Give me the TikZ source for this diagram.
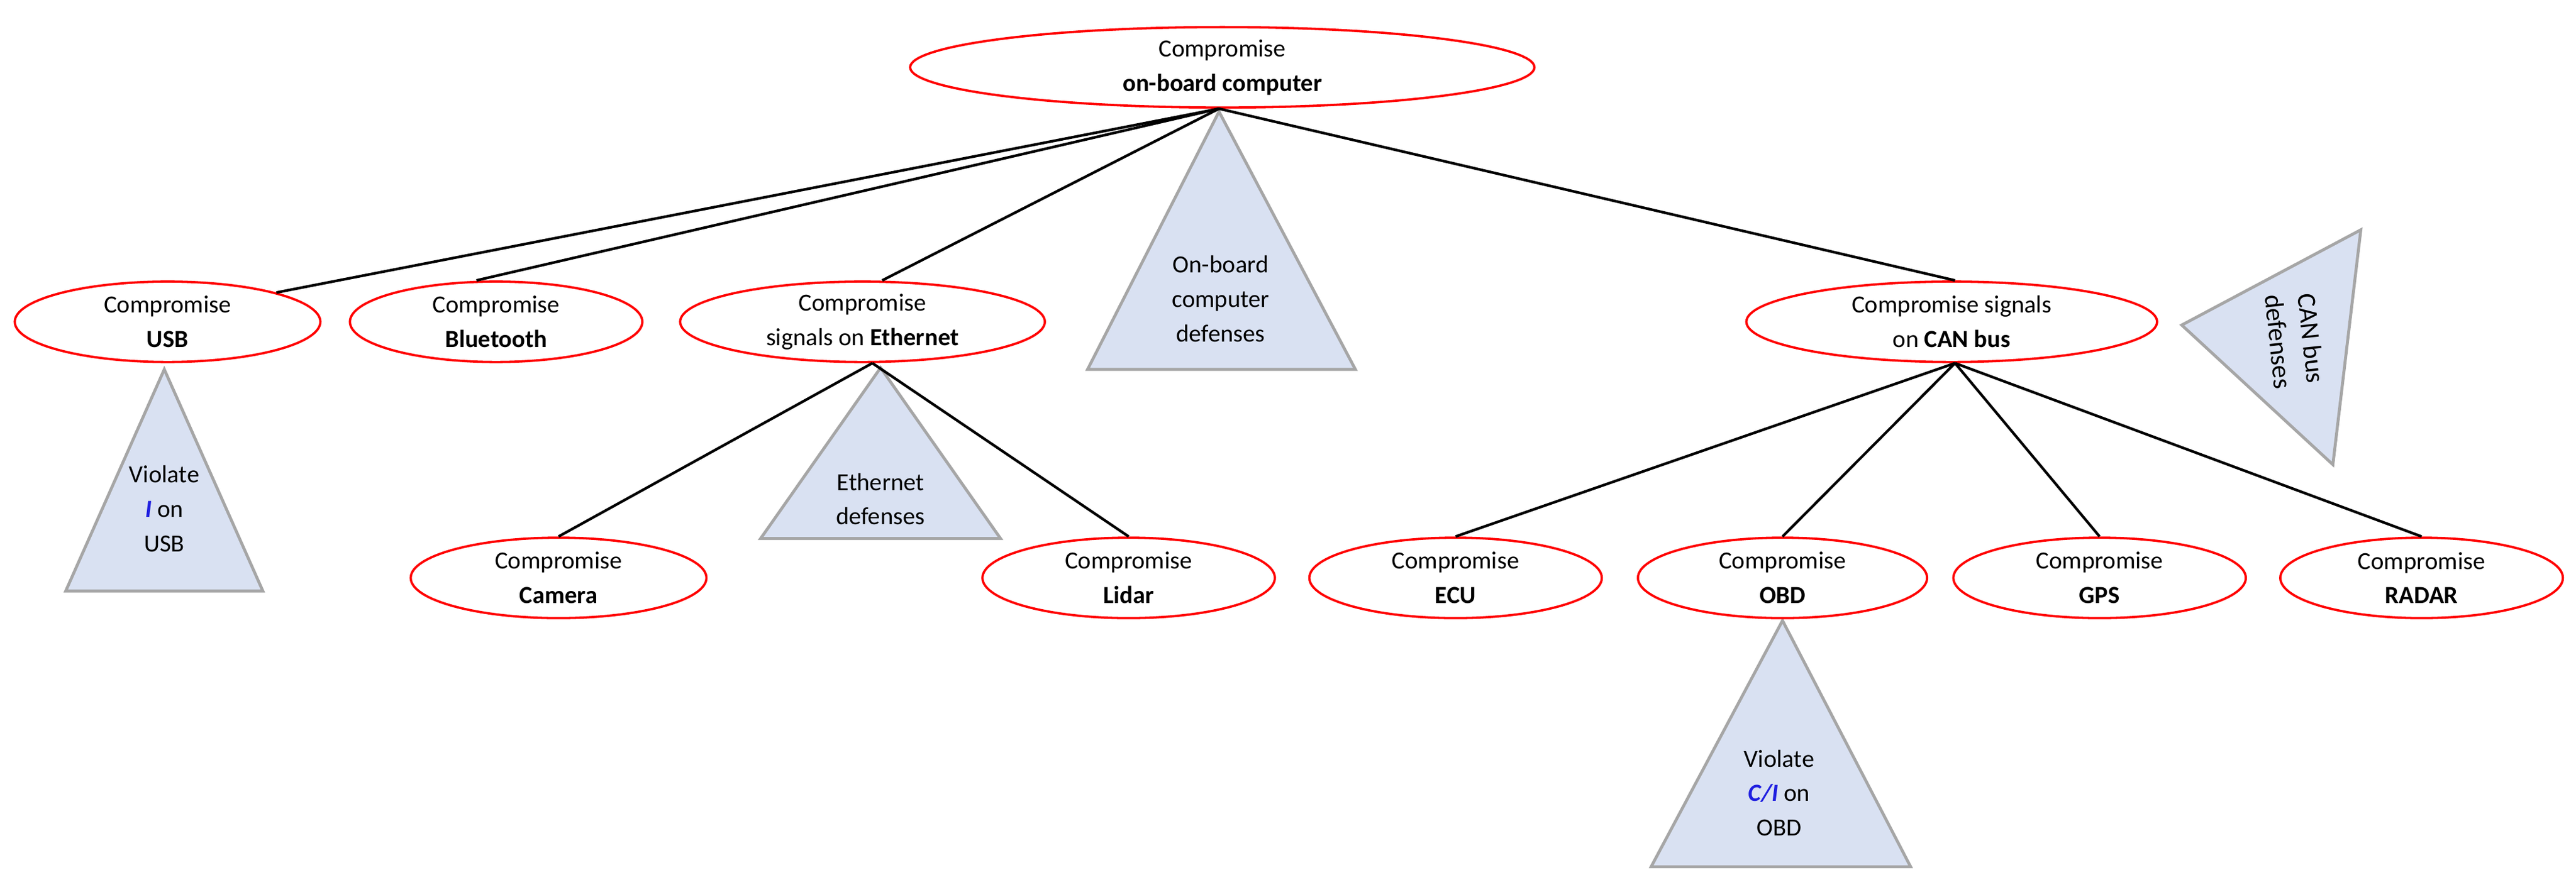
\documentclass[tikz,border=0pt]{standalone}
\usepackage{fontspec}
\setmainfont{Carlito}
\usetikzlibrary{shapes.geometric}
\definecolor{tri}{HTML}{D9E1F2}
\definecolor{trib}{HTML}{A6A6A6}
\definecolor{cb}{HTML}{1F1FE0}
\begin{document}
\begin{tikzpicture}[x=1pt,y=-1pt,
  el/.style={ellipse,draw=red,line width=1.4pt,inner sep=0pt,minimum height=49pt,align=center,font=\fontsize{15}{21}\selectfont},
  tr/.style={fill=tri,draw=trib,line width=1.8pt,line join=miter},
  tt/.style={align=center,font=\fontsize{15}{21}\selectfont,inner sep=0pt},
  ed/.style={line width=1.6pt}]
\useasboundingbox (0,0) rectangle (1568,540);
% triangles
\draw[tr] (742,68) -- (825,225) -- (662,225) -- cycle;
\node[tt] (obdef) at (743,182) {On-board\\computer\\defenses};
\draw[tr] (1328,198) -- (1437,140) -- (1420,283) -- cycle;
\node[tt,rotate=-84,font=\fontsize{16}{20}\selectfont] (candef) at (1397,207) {CAN bus\\defenses};
\draw[tr] (100,225) -- (160,360) -- (40,360) -- cycle;
\node[tt] (usbv) at (100,310) {Violate\\\textcolor{cb}{\textbf{\textit{I}}} on\\USB};
\draw[tr] (536,224) -- (609,328) -- (463,328) -- cycle;
\node[tt] (ethdef) at (536,304) {Ethernet\\defenses};
\draw[tr] (1085,378) -- (1163,528) -- (1005,528) -- cycle;
\node[tt] (obdv) at (1083,483) {Violate\\\textcolor{cb}{\textbf{\textit{C/I}}} on\\OBD};
% ellipses
\node[el,minimum width=380pt] (top) at (744,41) {Compromise\\\textbf{on-board computer}};
\node[el,minimum width=186pt] (usb) at (102,196) {Compromise\\\textbf{USB}};
\node[el,minimum width=178pt] (bt) at (302,196) {Compromise\\\textbf{Bluetooth}};
\node[el,minimum width=222pt] (eth) at (525,196) {Compromise\\signals on \textbf{Ethernet}};
\node[el,minimum width=250pt] (can) at (1188,196) {Compromise signals\\on \textbf{CAN bus}};
\node[el,minimum width=180pt] (cam) at (340,352) {Compromise\\\textbf{Camera}};
\node[el,minimum width=178pt] (lid) at (687,352) {Compromise\\\textbf{Lidar}};
\node[el,minimum width=178pt] (ecu) at (886,352) {Compromise\\\textbf{ECU}};
\node[el,minimum width=176pt] (obd) at (1085,352) {Compromise\\\textbf{OBD}};
\node[el,minimum width=178pt] (gps) at (1278,352) {Compromise\\\textbf{GPS}};
\node[el,minimum width=172pt] (rad) at (1474,352) {Compromise\\\textbf{RADAR}};
% edges
\draw[ed] ([xshift=-2pt]top.south) -- (usb.north east);
\draw[ed] ([xshift=-2pt]top.south) -- ([xshift=-12pt]bt.north);
\draw[ed] ([xshift=-2pt]top.south) -- ([xshift=12pt]eth.north);
\draw[ed] ([xshift=-2pt]top.south) -- ([xshift=2pt]can.north);
\draw[ed] ([xshift=6pt]eth.south) -- (cam.north);
\draw[ed] ([xshift=6pt]eth.south) -- (lid.north);
\draw[ed] ([xshift=2pt]can.south) -- (ecu.north);
\draw[ed] ([xshift=2pt]can.south) -- (obd.north);
\draw[ed] ([xshift=2pt]can.south) -- (gps.north);
\draw[ed] ([xshift=2pt]can.south) -- (rad.north);
\end{tikzpicture}
\end{document}
